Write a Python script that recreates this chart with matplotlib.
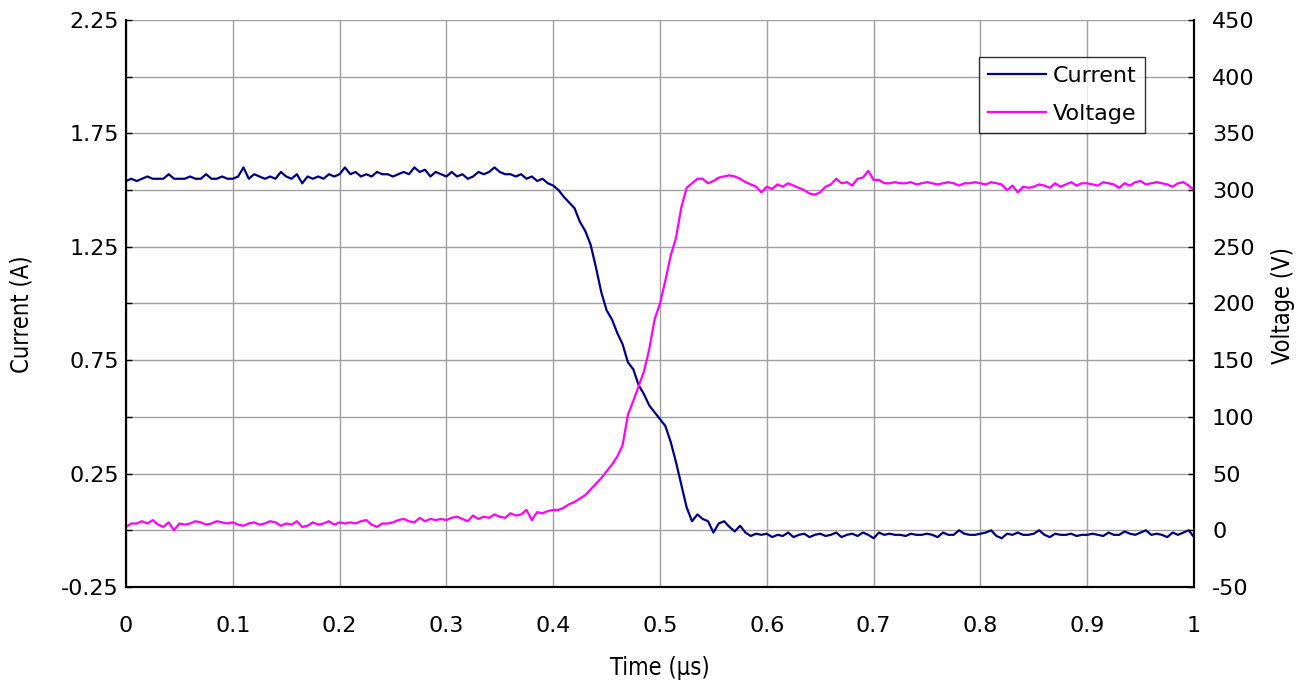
import numpy as np
import matplotlib
matplotlib.use("Agg")
import matplotlib.pyplot as plt
from matplotlib.ticker import FixedLocator
from matplotlib import font_manager
from matplotlib.font_manager import FontProperties

# ---------------- data ----------------
t_step = 0.005
current = [
    # 0.00 - 0.045
    1.54, 1.55, 1.54, 1.55, 1.56, 1.55, 1.55, 1.55, 1.57, 1.55,
    # 0.05 - 0.095
    1.55, 1.55, 1.56, 1.55, 1.55, 1.57, 1.55, 1.55, 1.56, 1.55,
    # 0.10 - 0.145
    1.55, 1.56, 1.60, 1.55, 1.57, 1.56, 1.55, 1.56, 1.55, 1.58,
    # 0.15 - 0.195
    1.56, 1.55, 1.57, 1.53, 1.56, 1.55, 1.56, 1.55, 1.57, 1.56,
    # 0.20 - 0.245
    1.57, 1.60, 1.57, 1.58, 1.56, 1.57, 1.56, 1.58, 1.57, 1.57,
    # 0.25 - 0.295
    1.56, 1.57, 1.58, 1.57, 1.60, 1.58, 1.59, 1.56, 1.58, 1.57,
    # 0.30 - 0.345
    1.56, 1.58, 1.56, 1.57, 1.55, 1.56, 1.58, 1.57, 1.58, 1.60,
    # 0.35 - 0.395
    1.58, 1.57, 1.57, 1.56, 1.57, 1.55, 1.56, 1.54, 1.55, 1.53,
    # 0.40 - 0.445
    1.52, 1.50, 1.47, 1.445, 1.42, 1.36, 1.32, 1.26, 1.16, 1.05,
    # 0.45 - 0.495
    0.97, 0.93, 0.87, 0.82, 0.74, 0.71, 0.64, 0.60, 0.55, 0.52,
    # 0.50 - 0.545
    0.49, 0.46, 0.39, 0.30, 0.20, 0.10, 0.04, 0.07, 0.05, 0.04,
    # 0.55 - 0.595
    -0.01, 0.03, 0.04, 0.015, -0.005, 0.02, -0.01, -0.025, -0.015, -0.02,
    # 0.60 - 0.645
    -0.015, -0.03, -0.02, -0.025, -0.01, -0.03, -0.02, -0.015, -0.03, -0.02,
    # 0.65 - 0.695
    -0.015, -0.025, -0.02, -0.01, -0.03, -0.02, -0.015, -0.025, -0.01, -0.02,
    # 0.70 - 0.745
    -0.035, -0.01, -0.02, -0.015, -0.02, -0.02, -0.025, -0.015, -0.02, -0.02,
    # 0.75 - 0.795
    -0.015, -0.02, -0.03, -0.01, -0.02, -0.02, 0.00, -0.015, -0.02, -0.02,
    # 0.80 - 0.845
    -0.015, -0.01, 0.00, -0.025, -0.035, -0.015, -0.02, -0.01, -0.02, -0.02,
    # 0.85 - 0.895
    -0.015, 0.00, -0.02, -0.03, -0.015, -0.02, -0.02, -0.015, -0.025, -0.02,
    # 0.90 - 0.945
    -0.02, -0.015, -0.02, -0.025, -0.01, -0.02, -0.02, -0.005, -0.015, -0.02,
    # 0.95 - 0.995
    -0.01, 0.00, -0.02, -0.015, -0.02, -0.03, -0.01, -0.02, -0.01, 0.00,
    # 1.00
    -0.03,
]
voltage = [
    # 0.00 - 0.045
    3, 6, 6, 8, 6, 9, 5, 3, 7, 0,
    # 0.05 - 0.095
    6, 5, 6, 8, 7, 5, 6, 8, 7, 6,
    # 0.10 - 0.145
    7, 5, 4, 6, 7, 5, 6, 8, 7, 4,
    # 0.15 - 0.195
    6, 5, 8, 3, 4, 7, 5, 6, 8, 5,
    # 0.20 - 0.245
    7, 6, 7, 6, 8, 9, 5, 3, 6, 6,
    # 0.25 - 0.295
    7, 9, 10, 8, 7, 11, 8, 10, 9, 10,
    # 0.30 - 0.345
    9, 11, 12, 10, 8, 13, 10, 12, 11, 14,
    # 0.35 - 0.395
    12, 11, 15, 13, 14, 18, 9, 16, 15, 17,
    # 0.40 - 0.445
    18, 18, 20, 23, 25, 28, 31, 36, 41, 46,
    # 0.45 - 0.495
    52, 58, 65, 75, 102, 114, 127, 140, 160, 186,
    # 0.50 - 0.545
    200, 220, 242, 258, 285, 302, 306, 310, 310, 306,
    # 0.55 - 0.595
    308, 311, 312, 313, 312, 310, 307, 305, 303, 298,
    # 0.60 - 0.645
    303, 301, 305, 303, 306, 304, 302, 300, 297, 296,
    # 0.65 - 0.695
    298, 303, 305, 310, 306, 307, 304, 310, 311, 317,
    # 0.70 - 0.745
    309, 309, 306, 306, 307, 306, 306, 307, 305, 306,
    # 0.75 - 0.795
    307, 306, 305, 306, 307, 306, 304, 306, 306, 307,
    # 0.80 - 0.845
    306, 305, 307, 306, 305, 300, 304, 298, 303, 302,
    # 0.85 - 0.895
    303, 305, 304, 302, 306, 303, 305, 307, 304, 306,
    # 0.90 - 0.945
    306, 305, 304, 307, 306, 305, 302, 306, 304, 307,
    # 0.95 - 0.995
    308, 305, 306, 307, 306, 305, 303, 306, 307, 304,
    # 1.00
    300,
]
time = np.arange(len(current)) * t_step

x_ticks = [0, 0.1, 0.2, 0.3, 0.4, 0.5, 0.6, 0.7, 0.8, 0.9, 1]
x_tick_labels = ["0", "0.1", "0.2", "0.3", "0.4", "0.5", "0.6", "0.7", "0.8", "0.9", "1"]
i_ticks = [-0.25, 0.25, 0.75, 1.25, 1.75, 2.25]
v_ticks = [-50, 0, 50, 100, 150, 200, 250, 300, 350, 400, 450]

# ---------------- fonts ----------------
plt.rcParams["font.family"] = ["DejaVu Sans"]
plt.rcParams["axes.unicode_minus"] = False

avail = {(f.name, f.stretch) for f in font_manager.fontManager.ttflist}
names = {f.name for f in font_manager.fontManager.ttflist}
if any(n == "DejaVu Sans" and s in ("condensed", "semi-condensed", 400, 300) for n, s in avail):
    title_fp = FontProperties(family="DejaVu Sans", stretch="condensed", size=17)
elif "Liberation Sans Narrow" in names:
    title_fp = FontProperties(family="Liberation Sans Narrow", size=19)
else:
    title_fp = FontProperties(family="Liberation Sans", size=17)

# ---------------- figure ----------------
W, H = 1306, 687
fig = plt.figure(figsize=(W / 100, H / 100), dpi=100)
ax = fig.add_axes([126 / W, 1 - 587 / H, (1194 - 126) / W, (587 - 20) / H])
ax2 = ax.twinx()

ax.set_xlim(0, 1)
ax.set_ylim(-0.25, 2.25)
ax2.set_ylim(-50, 450)

ax.set_xticks(x_ticks)
ax.set_xticklabels(x_tick_labels)
ax.set_yticks(i_ticks)
ax.yaxis.set_minor_locator(FixedLocator(np.arange(-0.25, 2.26, 0.25)))
ax2.set_yticks(v_ticks)

ax.grid(True, which="both", axis="y", color="#a0a0a0", linewidth=1.0)
ax.grid(True, which="major", axis="x", color="#a0a0a0", linewidth=1.0)
ax.set_axisbelow(True)

for a in (ax, ax2):
    a.tick_params(which="both", direction="in", length=4, width=1, labelsize=16)
ax.tick_params(axis="x", length=0, pad=21)
ax.tick_params(axis="y", which="both", pad=5)
ax2.tick_params(axis="y", which="both", pad=13)

for side in ("left", "right", "bottom"):
    ax.spines[side].set_linewidth(1.5)
    ax2.spines[side].set_linewidth(1.5)
ax.spines["top"].set_visible(False)
ax2.spines["top"].set_visible(False)

l1, = ax.plot(time, current, color="#000080", linewidth=1.6, label="Current")
l2, = ax2.plot(time, voltage, color="#FF00FF", linewidth=1.6, label="Voltage")

fig.text(660 / W, 1 - 668 / H, "Time (\u00b5s)", ha="center", va="center", fontproperties=title_fp)
fig.text(22 / W, 1 - 314 / H, "Current (A)", ha="center", va="center", rotation=90, fontproperties=title_fp)
fig.text(1283 / W, 1 - 306 / H, "Voltage (V)", ha="center", va="center", rotation=90, fontproperties=title_fp)

leg = ax2.legend(handles=[l1, l2], loc="upper right",
                 bbox_to_anchor=((1145 - 126) / 1068, (587 - 57) / 567),
                 borderaxespad=0, fontsize=16, frameon=True, fancybox=False,
                 edgecolor="#000000", handlelength=2.6, borderpad=0.4,
                 labelspacing=0.8, handletextpad=0.3)
leg.get_frame().set_linewidth(1.0)

fig.savefig("out.png", dpi=100)
